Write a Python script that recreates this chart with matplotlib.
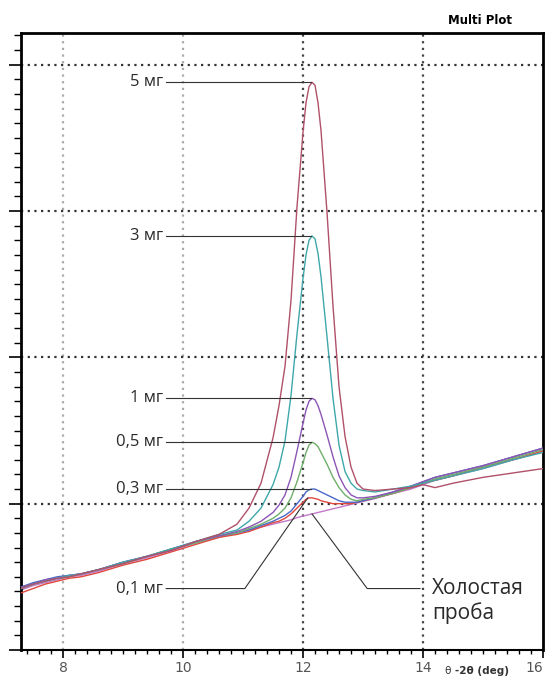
import matplotlib
matplotlib.use("Agg")
import matplotlib.pyplot as plt
from matplotlib.ticker import MultipleLocator

# 2theta positions (deg)
two_theta = [7.3, 7.5, 7.7, 7.9, 8.1, 8.3, 8.6, 9.0, 9.4, 9.8, 10.2, 10.6, 10.9,
             11.1, 11.3, 11.5, 11.6, 11.7, 11.8, 11.9, 12.0, 12.05, 12.1, 12.15,
             12.2, 12.25, 12.3, 12.4, 12.5, 12.6, 12.7, 12.8, 12.9, 13.0, 13.2,
             13.5, 13.8, 14.0, 14.2, 14.5, 15.0, 15.5, 16.0]

blank = [0.41, 0.44, 0.46, 0.48, 0.50, 0.51, 0.54, 0.59, 0.63, 0.68, 0.73, 0.77, 0.80,
         0.82, 0.84, 0.86, 0.87, 0.88, 0.89, 0.905, 0.915, 0.92, 0.925, 0.93,
         0.935, 0.94, 0.945, 0.955, 0.965, 0.975, 0.985, 0.995, 1.005, 1.015, 1.035,
         1.07, 1.10, 1.13, 1.16, 1.19, 1.24, 1.30, 1.36]
mg_0_1 = [0.39, 0.42, 0.45, 0.47, 0.49, 0.50, 0.53, 0.58, 0.62, 0.67, 0.72, 0.77, 0.79,
          0.81, 0.84, 0.87, 0.88, 0.90, 0.93, 0.97, 1.01, 1.03, 1.04, 1.04,
          1.035, 1.03, 1.02, 1.01, 1.00, 1.00, 1.00, 1.00, 1.01, 1.02, 1.04,
          1.07, 1.11, 1.14, 1.16, 1.19, 1.25, 1.30, 1.36]
mg_0_3 = [0.43, 0.46, 0.48, 0.50, 0.51, 0.52, 0.55, 0.60, 0.64, 0.69, 0.74, 0.78, 0.80,
          0.82, 0.85, 0.88, 0.90, 0.92, 0.95, 1.00, 1.05, 1.08, 1.095, 1.10,
          1.10, 1.09, 1.08, 1.06, 1.04, 1.02, 1.01, 1.01, 1.01, 1.02, 1.04,
          1.08, 1.12, 1.15, 1.18, 1.21, 1.26, 1.32, 1.38]
mg_0_5 = [0.42, 0.45, 0.47, 0.49, 0.50, 0.52, 0.55, 0.59, 0.64, 0.69, 0.73, 0.78, 0.80,
          0.83, 0.86, 0.90, 0.93, 0.97, 1.04, 1.15, 1.28, 1.35, 1.40, 1.42,
          1.41, 1.39, 1.35, 1.27, 1.18, 1.11, 1.06, 1.03, 1.02, 1.03, 1.04,
          1.07, 1.11, 1.14, 1.17, 1.20, 1.25, 1.31, 1.37]
mg_1 = [0.43, 0.45, 0.48, 0.49, 0.51, 0.52, 0.55, 0.60, 0.64, 0.68, 0.74, 0.78, 0.81,
        0.84, 0.88, 0.94, 0.99, 1.06, 1.18, 1.36, 1.55, 1.64, 1.70, 1.72,
        1.71, 1.67, 1.61, 1.47, 1.32, 1.19, 1.11, 1.06, 1.04, 1.04, 1.05,
        1.08, 1.12, 1.15, 1.18, 1.21, 1.26, 1.32, 1.38]
mg_3 = [0.42, 0.45, 0.47, 0.49, 0.51, 0.52, 0.55, 0.60, 0.64, 0.69, 0.74, 0.79, 0.82,
        0.88, 0.97, 1.13, 1.25, 1.43, 1.74, 2.16, 2.54, 2.70, 2.80, 2.83,
        2.81, 2.71, 2.55, 2.14, 1.72, 1.40, 1.22, 1.14, 1.10, 1.09, 1.08,
        1.10, 1.12, 1.14, 1.16, 1.19, 1.24, 1.30, 1.35]
mg_5 = [0.42, 0.45, 0.47, 0.49, 0.50, 0.52, 0.55, 0.59, 0.64, 0.68, 0.74, 0.79, 0.86,
        0.97, 1.14, 1.45, 1.67, 1.94, 2.39, 3.03, 3.54, 3.74, 3.85, 3.88,
        3.86, 3.74, 3.55, 2.99, 2.35, 1.80, 1.46, 1.25, 1.14, 1.10, 1.09,
        1.10, 1.11, 1.13, 1.11, 1.14, 1.18, 1.21, 1.24]

samples = [mg_5, mg_3, mg_1, mg_0_5, mg_0_3, mg_0_1]
sample_labels = ['5 мг', '3 мг', '1 мг', '0,5 мг', '0,3 мг', '0,1 мг']
sample_colors = ['#b0506a', '#3fa7aa', '#8c55b5', '#6fae6a', '#4a68c8', '#e0483e']
blank_label = ['Холостая', 'проба']
blank_color = '#c27ac8'
x_ticks = [8, 10, 12, 14, 16]


def peak_index(ys):
    # highest point inside the reflection window around 12 deg
    win = [k for k, t in enumerate(two_theta) if 11.8 <= t <= 12.4]
    return max(win, key=lambda k: ys[k])


fig = plt.figure(figsize=(5.5, 6.79), dpi=100)
ax = fig.add_axes([0.0382, 0.0427, 0.9491, 0.9087])
ax.set_xlim(7.3, 16)
ax.set_ylim(0, 4.217)

# grid
for gx in x_ticks[:-1]:
    col = '#aaaaaa' if gx < 12 else '#444444'
    ax.axvline(gx, color=col, lw=1.6, ls=(0, (1, 2)), zorder=1)
for gy in [1, 2, 3, 4]:
    ax.axhline(gy, color='#333333', lw=1.6, ls=(0, (1, 2)), zorder=1)

ax.plot(two_theta, blank, color=blank_color, lw=1.0, zorder=2)
for ys, col in zip(samples[::-1], sample_colors[::-1]):
    ax.plot(two_theta, ys, color=col, lw=1.0, zorder=3)

# leader lines and labels
lab_x = 9.67
line_color = '#333333'
txt_font = dict(family=['Open Sans', 'DejaVu Sans'], fontsize=12, color='#2a2a2a')
for ys, lab in zip(samples[:-1], sample_labels[:-1]):
    i = peak_index(ys)
    px, py = two_theta[i], ys[i]
    ax.plot([lab_x + 0.05, px - 0.02], [py, py], color=line_color, lw=0.8, zorder=4)
    ax.text(lab_x, py, lab, ha='right', va='center', **txt_font)

low_y = 0.42
i = peak_index(mg_0_1)
ax.plot([lab_x + 0.05, 11.03, two_theta[i] - 0.02], [low_y, low_y, mg_0_1[i]],
        color=line_color, lw=0.8, zorder=4)
ax.text(lab_x, low_y, sample_labels[-1], ha='right', va='center', **txt_font)

j = two_theta.index(12.15)
ax.plot([two_theta[j], 13.07, 13.95], [blank[j], low_y, low_y],
        color=line_color, lw=0.8, zorder=4)
blank_font = dict(txt_font, fontsize=15)
ax.text(14.15, low_y, blank_label[0], ha='left', va='center', **blank_font)
ax.text(14.15, low_y - 0.17, blank_label[1], ha='left', va='center', **blank_font)

# axes styling
for side in ['left', 'top', 'right']:
    ax.spines[side].set_linewidth(2)
ax.spines['bottom'].set_linewidth(1.5)
ax.set_xticks(x_ticks)
ax.xaxis.set_minor_locator(MultipleLocator(0.2))
ax.yaxis.set_major_locator(MultipleLocator(1))
ax.yaxis.set_minor_locator(MultipleLocator(0.1))
ax.tick_params(axis='x', which='major', direction='out', length=6, width=1.2, pad=2,
               labelsize=10, labelcolor='#555555')
ax.tick_params(axis='x', which='minor', direction='out', length=3, width=1)
ax.tick_params(axis='y', which='major', direction='out', length=9, width=1.2, labelleft=False)
ax.tick_params(axis='y', which='minor', direction='out', length=5, width=1)
xlabels = ax.get_xticklabels()
for t in xlabels:
    t.set_family(['Liberation Sans Narrow', 'DejaVu Sans'])
xlabels[-1].set_horizontalalignment('right')

fig.text(0.931, 0.9705, 'Multi Plot', ha='right', va='center', fontsize=8.5,
         fontweight='bold', color='black')
fig.text(0.808, 0.0125, 'θ', ha='left', va='center', fontsize=7.5, color='#333333')
fig.text(0.828, 0.0125, '-2θ (deg)', ha='left', va='center', fontsize=7.5,
         fontweight='bold', color='#333333')

fig.savefig('out.png', dpi=100)
